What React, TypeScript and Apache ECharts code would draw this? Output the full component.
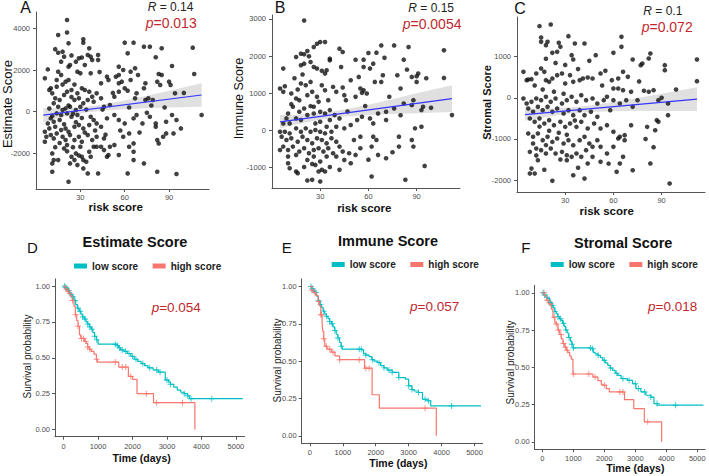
import React, { useEffect, useRef } from "react";
import * as echarts from "echarts";

const FONT = "'Liberation Sans', Arial, Helvetica, sans-serif";
const CYAN = "#00BFC4";
const SALMON = "#F8766D";
const PRED = "#c0282e";
const AXIS = "#555555";
const TICKTXT = "#4d4d4d";

// ---------- tick labels ----------
const riskTicks = [30, 60, 90];
const estimateTicks = [-2000, 0, 2000, 4000];
const immuneTicks = [-1000, 0, 1000, 2000, 3000];
const stromalTicks = [-2000, -1000, 0, 1000];
const survTicks = [0, 0.25, 0.5, 0.75, 1];
const timeTicks = [0, 1000, 2000, 3000, 4000, 5000];

// ---------- scatter data (risk score, score) ----------
const estimatePoints: number[][] = [
  [21,4400],[21,3800],[15,3680],[32,3470],[32,3310],[22,3280],[18,2880],[15,2830],[19,2640],[36,3040],[35,2720],[37,2640],[38,2480],[29,2560],[27,2400],[23,2240],[22,2160],[42,2720],[42,2480],[60,3310],[66,3310],[73,3120],[77,3120],[62,2800],[81,2610],[85,3040],[106,3070],[92,2190],[107,1810],[8,2030],[6,1600],[10,1120],[9,1040],[15,1920],[17,1760],[14,1520],[20,1440],[22,1520],[28,1920],[30,1840],[37,1840],[33,2240],[56,2160],[59,2000],[64,1920],[67,2080],[56,1760],[54,1680],[48,1680],[49,1520],[44,1360],[69,1760],[64,1520],[56,1360],[58,1440],[60,1120],[62,1010],[74,1360],[73,1120],[82,1440],[84,1280],[90,1440],[91,1280],[94,880],[85,1760],[83,1810],[68,880],[67,640],[76,640],[79,560],[74,560],[56,960],[53,720],
  [11,880],[13,640],[16,560],[19,800],[21,960],[24,1040],[28,880],[31,1120],[33,1040],[36,960],[38,720],[41,880],[26,560],[29,640],[32,400],[35,560],[39,480],[44,640],[46,240],[50,320],[15,240],[18,80],[20,160],[23,240],[27,80],[30,240],[14,-80],[17,-160],[21,-80],[24,-240],[28,-160],[8,-560],[10,-320],[12,-480],[6,-960],[9,-800],[13,-720],[17,-880],[20,-800],[22,-960],[26,-720],[29,-640],[32,-800],[36,-640],[37,-240],[39,-400],[41,-560],[44,-720],[48,-320],[53,-160],[56,-400],[60,-560],[66,-320],[68,-160],[72,-560],[77,-240],[81,-560],[88,-480],[92,-160],[95,-400],[112,-160],
  [10,-1120],[12,-1280],[14,-1040],[18,-1200],[20,-1360],[23,-1120],[26,-1360],[29,-1200],[31,-1440],[35,-1120],[38,-1360],[41,-1200],[44,-1680],[46,-1280],[41,-1680],[39,-1680],[50,-1680],[53,-1600],[48,-2160],[59,-1200],[63,-1040],[66,-1520],[63,-1680],[66,-1920],[66,-2320],[56,-2080],[49,-2080],[46,-1840],[82,-1360],[83,-1520],[86,-1200],[88,-1040],[81,-720],[93,-1040],[98,-800],[73,-2480],[82,-2880],[95,-2990],[11,-2000],[12,-2320],[11,-2480],[11,-2880],[15,-2320],[22,-3360],[24,-2160],[26,-2320],[23,-2480],[27,-2000],[28,-2560],[30,-1680],[31,-2160],[32,-2320],[32,-2720],[35,-2960],[42,-2960],[62,-2960],[36,-1920],[37,-2160],[21,-1600],[19,-1760],[6,-1440],
  [12,400],[16,-400],[19,-600],[22,300],[25,-100],[27,-500],[31,-300],[34,100],[11,-200],[14,1200],[18,1300],[24,700],[26,1300],[33,-1000],[16,-1500],[21,-1900],[25,-1700],[29,-2100],[13,-1700],[9,150],[7,-1200],[34,-2400],[40,-900],[45,100],[43,1900],[47,-1100],[52,900],[57,-900],[63,200],[70,-1000],[75,-50],[78,300],[87,200],[100,900],[17,2400],[24,2700],[13,3000],[31,2600]
];

const immunePoints: number[][] = [
  [20,2960],[30,2377],[28,2330],[33,2377],[26,2242],[22,2135],[20,2045],[18,2063],[15,1973],[23,1991],[42,2198],[44,2108],[36,1884],[36,1929],[7,1660],[24,1839],[20,1794],[18,1749],[26,1704],[28,1660],[34,1615],[33,1525],[68,2287],[76,2287],[85,2242],[65,2090],[60,2081],[82,1902],[57,1902],[63,1794],[57,1704],[61,1660],[91,1525],[90,1453],[84,1632],[107,2153],[107,1408],[49,1345],[54,1435],[69,1480],[78,1480],[68,1300],[64,1300],[55,1121],[57,1076],[56,1005],[59,987],[45,942],[46,807],[52,897],[80,1121],[90,1300],[87,1435],
  [5,1121],[8,1184],[7,1032],[12,987],[16,1094],[18,1256],[21,1211],[17,807],[15,852],[22,942],[25,1032],[28,897],[31,1211],[33,1076],[35,807],[38,1166],[40,1032],[29,762],[26,628],[24,646],[20,583],[17,493],[13,628],[10,448],[9,314],[7,179],[11,179],[15,314],[18,269],[22,404],[26,448],[30,493],[33,448],[36,538],[39,404],[42,314],[36,269],[34,90],[30,224],[27,179],
  [5,-45],[8,-45],[11,-90],[15,45],[18,-45],[21,45],[24,-45],[27,0],[30,-45],[33,-90],[37,-45],[40,90],[45,45],[49,135],[53,269],[56,359],[61,314],[63,179],[66,448],[71,493],[76,583],[71,269],[82,718],[87,673],[93,538],[94,628],[88,807],[112,404],
  [6,-179],[9,-269],[12,-224],[16,-314],[19,-179],[22,-269],[25,-359],[28,-224],[31,-269],[34,-359],[37,-224],[40,-314],[7,-448],[10,-538],[13,-448],[17,-583],[20,-493],[23,-628],[26,-538],[29,-493],[32,-583],[35,-493],[38,-628],[5,-538],[10,-718],[15,-673],[22,-807],[26,-718],[30,-852],[34,-718],[40,-718],[45,-807],[48,-628],[49,-897],[52,-673],[55,-493],[63,-179],[65,-269],[62,-448],[66,-673],[71,-763],[79,-179],[79,-448],[87,-269],[88,-448],[89,45],[93,90],[10,-897],[11,-1032],[15,-1121],[16,-1166],[25,-915],[27,-942],[29,-1121],[33,-1121],[31,-1076],[22,-1363],[25,-1345],[30,-1390],[42,-1076],[62,-1256],[83,-1345],[95,-969],[42,-448],[44,-583],[55,-179],[51,-269],
  [14,1400],[19,1500],[24,1300],[12,700],[31,1600],[44,1150],[47,500],[58,650],[73,900],[80,400],[99,600],[60,-800],[75,-600],[20,-1000],[36,-1000],[43,1700],[52,1900],[70,1950],[96,1400]
];

const stromalPoints: number[][] = [
  [14,1744],[21,1784],[15,1468],[15,1362],[19,1362],[18,1281],[26,1338],[27,1241],[32,1500],[36,1322],[42,1322],[22,1095],[25,1119],[34,1038],[35,933],[49,1038],[60,1095],[65,1484],[65,1241],[72,933],[77,795],[78,835],[82,957],[83,1079],[92,795],[92,673],[112,933],[112,406],
  [4,633],[7,446],[9,454],[6,430],[12,592],[15,714],[17,633],[18,430],[20,389],[22,470],[25,551],[28,592],[30,349],[33,551],[35,389],[39,430],[41,470],[44,495],[47,470],[52,592],[55,657],[59,430],[63,470],[66,633],[69,511],[60,227],[63,227],[66,187],[71,146],[79,170],[82,146],[85,187],[88,-57],[90,0],[94,-138],[94,-422],
  [4,-16],[6,-138],[9,-97],[12,-16],[15,-57],[18,24],[21,-97],[24,-16],[28,-138],[31,-57],[34,24],[37,-97],[40,65],[43,-57],[47,-16],[50,-138],[54,-57],[56,24],[60,-57],[64,-138],[68,-57],[72,-219],[75,-57],
  [7,-260],[10,-341],[13,-219],[16,-300],[19,-219],[22,-341],[25,-260],[29,-381],[32,-300],[35,-422],[39,-300],[42,-422],[46,-341],[50,-462],
  [8,-503],[11,-584],[14,-503],[17,-624],[20,-543],[23,-665],[27,-584],[30,-706],[33,-624],[37,-706],[40,-584],[44,-746],[48,-624],[52,-746],[56,-665],[60,-827],[64,-949],[67,-908],[67,-1030],[71,-665],[81,-706],[86,-787],[87,-543],[88,-584],
  [7,-868],[10,-949],[13,-868],[16,-1030],[19,-949],[22,-1071],[25,-990],[29,-1111],[32,-1030],[35,-1152],[39,-1030],[42,-949],[45,-1111],[50,-1030],
  [10,-1111],[12,-1233],[15,-1273],[18,-1354],[21,-1233],[24,-1354],[28,-1314],[31,-1395],[34,-1435],[37,-1354],[40,-1435],[43,-1273],[47,-1192],[52,-1192],[56,-1354],[60,-1192],[63,-989],[8,-1314],[13,-1517],[9,-1720],[8,-1841],[11,-1841],[22,-2019],[31,-1517],[35,-1882],[42,-1963],[52,-1557],[64,-1598],[66,-1435],[72,-1760],[83,-1598],[95,-2084],[44,-1598],[47,-1435],[62,-1800],
  [11,300],[16,200],[23,150],[29,100],[14,-700],[20,-800],[26,-850],[31,-900],[36,-550],[12,-1400],[18,-1150],[27,-1500],[24,850],[30,800],[38,700],[45,900],[18,950],[53,300],[58,-300],[76,400],[80,-1000],[99,200],[85,-1200],[57,-1600],[38,-1700],[17,-1750]
];

// ---------- linear fits and confidence bands ----------
const estimateFit = [[5, -160], [112, 800]];
const immuneFit = [[5, 223], [112, 850]];
const stromalFit = [[5, -407], [112, -32]];
const bandX = [5, 15, 25, 35, 45, 60, 75, 90, 112];
const estimateLo = [-500, -300, -140, -26, 49, 123, 168, 202, 240];
const estimateHi = [180, 160, 180, 244, 349, 543, 768, 1002, 1360];
const immuneLo = [43, 151, 240, 309, 357, 405, 433, 451, 490];
const immuneHi = [403, 411, 440, 489, 557, 685, 833, 991, 1210];
const stromalLo = [-557, -482, -422, -377, -347, -324, -316, -319, -322];
const stromalHi = [-257, -262, -252, -227, -187, -104, -6, 101, 258];

// ---------- Kaplan-Meier curves (time, survival) ----------
const estimateLow = [[0,1],[40,0.99],[80,0.98],[120,0.97],[160,0.955],[200,0.94],[250,0.925],[300,0.9],[350,0.87],[400,0.845],[450,0.825],[500,0.805],[550,0.785],[600,0.77],[650,0.75],[700,0.735],[750,0.715],[800,0.7],[850,0.675],[900,0.65],[950,0.625],[1000,0.595],[1550,0.585],[1600,0.57],[1650,0.555],[1750,0.545],[1850,0.53],[1950,0.51],[2050,0.49],[2150,0.475],[2250,0.46],[2350,0.445],[2450,0.43],[2600,0.415],[2750,0.4],[2950,0.345],[3050,0.33],[3100,0.315],[3200,0.295],[3300,0.275],[3400,0.26],[3500,0.25],[3600,0.235],[3650,0.215],[5200,0.215]];
const estimateHigh = [[0,1],[50,0.98],[100,0.965],[150,0.95],[200,0.93],[250,0.9],[300,0.86],[340,0.8],[380,0.76],[420,0.72],[460,0.66],[500,0.635],[600,0.615],[650,0.6],[700,0.575],[750,0.56],[800,0.545],[880,0.525],[950,0.49],[980,0.47],[1600,0.435],[1880,0.37],[2000,0.35],[2130,0.25],[2610,0.187],[3810,0]];
const immuneLow = [[0,1],[50,0.985],[100,0.97],[150,0.96],[200,0.935],[250,0.905],[300,0.88],[350,0.86],[400,0.835],[450,0.815],[500,0.8],[550,0.785],[600,0.765],[650,0.75],[700,0.73],[750,0.705],[800,0.68],[850,0.655],[900,0.625],[950,0.6],[980,0.58],[1580,0.575],[1630,0.55],[1700,0.54],[1800,0.53],[1880,0.51],[1950,0.5],[2050,0.49],[2150,0.47],[2250,0.455],[2350,0.44],[2500,0.425],[2700,0.39],[2900,0.38],[3000,0.335],[3100,0.31],[3160,0.3],[3300,0.29],[3420,0.245],[3560,0.235],[3670,0.2],[5200,0.2]];
const immuneHigh = [[0,1],[60,0.975],[100,0.96],[180,0.94],[250,0.9],[290,0.87],[330,0.81],[370,0.75],[390,0.7],[420,0.65],[450,0.6],[520,0.58],[650,0.56],[760,0.535],[900,0.51],[1660,0.453],[1890,0.275],[2110,0.185],[3840,0]];
const stromalLow = [[0,1],[60,0.985],[120,0.97],[180,0.96],[240,0.935],[300,0.915],[350,0.9],[400,0.875],[450,0.86],[500,0.84],[550,0.825],[600,0.815],[650,0.795],[700,0.775],[750,0.75],[800,0.73],[850,0.7],[900,0.675],[950,0.655],[990,0.63],[1570,0.625],[1640,0.6],[1700,0.59],[1790,0.58],[1870,0.565],[1950,0.547],[2030,0.53],[2110,0.513],[2190,0.495],[2270,0.48],[2350,0.46],[2430,0.446],[2540,0.424],[2750,0.413],[2910,0.39],[3020,0.357],[3180,0.335],[3340,0.3125],[3500,0.3],[3600,0.257],[3710,0.246],[5200,0.246]];
const stromalHigh = [[0,1],[60,0.98],[130,0.95],[200,0.925],[290,0.89],[340,0.835],[400,0.8],[430,0.79],[500,0.75],[560,0.72],[610,0.69],[660,0.66],[720,0.635],[770,0.615],[820,0.6],[880,0.575],[930,0.555],[985,0.455],[1630,0.435],[1790,0.41],[1900,0.385],[1950,0.38],[2060,0.357],[2160,0.335],[2650,0.283],[2950,0.223],[3290,0.134],[3850,0]];

// censoring times
const estimateLowCens = [30,60,100,150,220,270,330,420,480,560,620,700,760,820,900,960,1500,1560,1620,1700,1800,1900,2000,2100,2300,2500,2700,2800,3000,3100,3500,3600,3700,4300];
const estimateHighCens = [80,130,180,260,350,420,520,580,640,700,760,960,1500,1700,1800,1950,2400,2700,3450];
const immuneLowCens = [30,80,120,180,260,320,420,500,600,680,760,850,950,1500,1560,1700,1900,2100,2250,2400,2500,2700,3000,3100,3300,3500,3600,4300];
const immuneHighCens = [60,150,270,330,350,420,500,600,700,900,1500,1700,1800,3500];
const stromalLowCens = [20,70,150,250,320,400,500,580,680,760,860,950,1000,1550,1620,1800,2000,2200,2400,2600,2800,3000,3100,3300,3500,3700,4300];
const stromalHighCens = [50,150,280,380,450,520,600,680,740,800,1000,1500,1700,2000,2500,2600,3400];

function survAt(curve: number[][], t: number): number {
  let s = curve[0][1];
  for (const [ti, si] of curve) {
    if (ti <= t) s = si;
    else break;
  }
  return s;
}

const PLUS = "path://M4.2,0H5.8V4.2H10V5.8H5.8V10H4.2V5.8H0V4.2H4.2Z";
const plain = (v: number) => String(v);

function scatterAxes(grid: number, yMin: number, yMax: number, yTicks: number[]) {
  const x = {
    type: "value", gridIndex: grid, min: 0, max: 117,
    axisLine: { show: true, onZero: false, lineStyle: { color: AXIS, width: 1 } },
    axisTick: { show: true, length: 3, customValues: riskTicks, lineStyle: { color: AXIS } },
    axisLabel: { customValues: riskTicks, fontSize: 7.5, color: TICKTXT, margin: 4, fontFamily: FONT, formatter: plain },
    splitLine: { show: false },
  };
  const y = {
    type: "value", gridIndex: grid, min: yMin, max: yMax,
    axisLine: { show: true, onZero: false, lineStyle: { color: AXIS, width: 1 } },
    axisTick: { show: true, length: 3, customValues: yTicks, lineStyle: { color: AXIS } },
    axisLabel: { customValues: yTicks, fontSize: 7.5, color: TICKTXT, margin: 6, fontFamily: FONT, formatter: plain },
    splitLine: { show: false },
  };
  return { x, y };
}

function kmAxes(grid: number) {
  const x = {
    type: "value", gridIndex: grid, min: -250, max: 5250,
    axisLine: { show: true, onZero: false, lineStyle: { color: AXIS, width: 1 } },
    axisTick: { show: true, length: 3, customValues: timeTicks, lineStyle: { color: AXIS } },
    axisLabel: { customValues: timeTicks, fontSize: 7.5, color: TICKTXT, margin: 5.5, fontFamily: FONT, formatter: plain },
    splitLine: { show: false },
  };
  const y = {
    type: "value", gridIndex: grid, min: -0.05, max: 1.05,
    axisLine: { show: true, onZero: false, lineStyle: { color: AXIS, width: 1 } },
    axisTick: { show: true, length: 3, customValues: survTicks, lineStyle: { color: AXIS } },
    axisLabel: { customValues: survTicks, fontSize: 7.5, color: TICKTXT, margin: 5, fontFamily: FONT, formatter: (v: number) => v.toFixed(2) },
    splitLine: { show: false },
  };
  return { x, y };
}

function scatterSeries(i: number, pts: number[][], fit: number[][], lo: number[], hi: number[]) {
  return [
    { type: "scatter", xAxisIndex: i, yAxisIndex: i, data: pts, symbolSize: 4.6, itemStyle: { color: "#111" }, silent: true },
    {
      type: "custom", xAxisIndex: i, yAxisIndex: i, data: [[bandX[0], lo[0]]], silent: true,
      renderItem: (_p: any, api: any) => {
        const points: number[][] = [];
        for (let k = 0; k < bandX.length; k++) points.push(api.coord([bandX[k], hi[k]]));
        for (let k = bandX.length - 1; k >= 0; k--) points.push(api.coord([bandX[k], lo[k]]));
        return { type: "polygon", shape: { points }, style: { fill: "rgba(165,165,165,0.35)" } };
      },
    },
    { type: "line", xAxisIndex: i, yAxisIndex: i, data: fit, symbol: "none", silent: true, lineStyle: { color: "#3535ff", width: 1.2 } },
  ];
}

function kmSeries(i: number, low: number[][], high: number[][], lowC: number[], highC: number[]) {
  return [
    { type: "line", name: "low score", step: "end", xAxisIndex: i, yAxisIndex: i, data: low, symbol: "none", silent: true, color: CYAN, lineStyle: { color: CYAN, width: 1.2 } },
    { type: "line", name: "high score", step: "end", xAxisIndex: i, yAxisIndex: i, data: high, symbol: "none", silent: true, color: SALMON, lineStyle: { color: SALMON, width: 1.2 } },
    { type: "scatter", name: "low censor", xAxisIndex: i, yAxisIndex: i, data: lowC.map((t) => [t, survAt(low, t)]), symbol: PLUS, symbolSize: 6, silent: true, itemStyle: { color: CYAN } },
    { type: "scatter", name: "high censor", xAxisIndex: i, yAxisIndex: i, data: highC.map((t) => [t, survAt(high, t)]), symbol: PLUS, symbolSize: 6, silent: true, itemStyle: { color: SALMON } },
  ];
}

function txt(text: string, x: number, y: number, size: number, opts: any = {}) {
  return {
    type: "text", x, y, z: 100, rotation: opts.rotation || 0, silent: true,
    style: {
      text, fontSize: size, fontFamily: FONT, fontWeight: opts.weight || "normal",
      fill: opts.color || "#111", align: opts.align || "center", verticalAlign: "middle",
    },
  };
}

function richStat(label: string, rest: string, x: number, y: number, size: number, color: string) {
  return {
    type: "text", x, y, z: 100, silent: true,
    style: {
      text: `{i|${label}}{n|${rest}}`, align: "left", verticalAlign: "middle",
      fontSize: size, fontFamily: FONT, fill: color,
      rich: {
        i: { fontStyle: "italic", fontSize: size, fontFamily: FONT, fill: color },
        n: { fontSize: size, fontFamily: FONT, fill: color },
      },
    },
  };
}

export default function App() {
  const ref = useRef<HTMLDivElement>(null);
  useEffect(() => {
    if (!ref.current) return;
    const chart = echarts.init(ref.current, undefined, { renderer: "svg" });
    const a = scatterAxes(0, -3707, 4782, estimateTicks);
    const b = scatterAxes(1, -1566, 3108, immuneTicks);
    const c = scatterAxes(2, -2290, 1966, stromalTicks);
    const d = kmAxes(3);
    const e = kmAxes(4);
    const f = kmAxes(5);
    const legendBase = {
      orient: "horizontal", icon: "rect", itemWidth: 13, itemHeight: 5, itemGap: 14.5, padding: 0,
      selectedMode: false, data: ["low score", "high score"],
      textStyle: { fontSize: 10, fontWeight: "bold", color: "#222", fontFamily: FONT },
    };
    chart.setOption({
      animation: false,
      backgroundColor: "#ffffff",
      grid: [
        { left: 36, top: 12, width: 173, height: 177 },
        { left: 272, top: 15, width: 188, height: 173 },
        { left: 517, top: 17, width: 188, height: 175 },
        { left: 55, top: 278.9, width: 189.5, height: 157.8 },
        { left: 301.7, top: 279.0, width: 181, height: 164.3 },
        { left: 534.7, top: 285.3, width: 170.3, height: 164.0 },
      ],
      xAxis: [a.x, b.x, c.x, d.x, e.x, f.x],
      yAxis: [a.y, b.y, c.y, d.y, e.y, f.y],
      legend: [
        { ...legendBase, left: 74, top: 261 },
        { ...legendBase, left: 331.7, top: 259.5 },
        { ...legendBase, left: 550.7, top: 259.5 },
      ],
      series: [
        ...scatterSeries(0, estimatePoints, estimateFit, estimateLo, estimateHi),
        ...scatterSeries(1, immunePoints, immuneFit, immuneLo, immuneHi),
        ...scatterSeries(2, stromalPoints, stromalFit, stromalLo, stromalHi),
        ...kmSeries(3, estimateLow, estimateHigh, estimateLowCens, estimateHighCens),
        ...kmSeries(4, immuneLow, immuneHigh, immuneLowCens, immuneHighCens),
        ...kmSeries(5, stromalLow, stromalHigh, stromalLowCens, stromalHighCens),
      ],
      graphic: [
        txt("A", 25.7, 7, 16),
        txt("B", 280, 7, 16),
        txt("C", 520, 8, 16),
        richStat("R", " = 0.14", 147.7, 6.5, 12, "#222"),
        richStat("p", "=0.013", 145.7, 22.7, 14, PRED),
        richStat("R", " = 0.15", 408.3, 7.5, 12, "#222"),
        richStat("p", "=0.0054", 402.7, 24, 14, PRED),
        richStat("R", " = 0.1", 643.3, 11, 12, "#222"),
        richStat("p", "=0.072", 641.7, 26.7, 14, PRED),
        txt("Estimate Score", 7, 104, 13, { rotation: Math.PI / 2 }),
        txt("Immune Score", 238.5, 98.5, 12.5, { rotation: Math.PI / 2 }),
        txt("Stromal Score", 487, 102.5, 11, { rotation: Math.PI / 2, weight: "bold" }),
        txt("risk score", 115.7, 207, 11.5, { weight: "bold" }),
        txt("risk score", 364.3, 208.3, 11.5, { weight: "bold" }),
        txt("risk score", 606.7, 210.7, 11.5, { weight: "bold" }),
        txt("Estimate Score", 135, 241.7, 14.5, { weight: "bold" }),
        txt("Immune Score", 388, 240.7, 14.5, { weight: "bold" }),
        txt("Stromal Score", 623.2, 243.3, 14.5, { weight: "bold" }),
        txt("D", 32.3, 247.7, 15),
        txt("E", 286.8, 247.7, 15),
        txt("F", 525.8, 247.7, 15),
        txt("Survival probability", 27.5, 356.5, 10, { rotation: Math.PI / 2, color: "#222" }),
        txt("Survival probability", 277.5, 360.5, 10, { rotation: Math.PI / 2, color: "#222" }),
        txt("Survival probability", 510, 362.5, 10, { rotation: Math.PI / 2, color: "#222" }),
        txt("Time (days)", 141.7, 458.3, 10.5, { weight: "bold" }),
        txt("Time (days)", 398.3, 463.3, 10.5, { weight: "bold" }),
        txt("Time (days)", 635.3, 468.3, 10.5, { weight: "bold" }),
        richStat("p", "=0.054", 151.7, 307.7, 13.5, PRED),
        richStat("p", "=0.057", 410, 306, 13.5, PRED),
        richStat("p", "=0.018", 648, 306.7, 13.5, PRED),
      ],
    });
    return () => chart.dispose();
  }, []);
  return <div ref={ref} style={{ position: "absolute", left: 0, top: 0, width: 709, height: 476 }} />;
}
